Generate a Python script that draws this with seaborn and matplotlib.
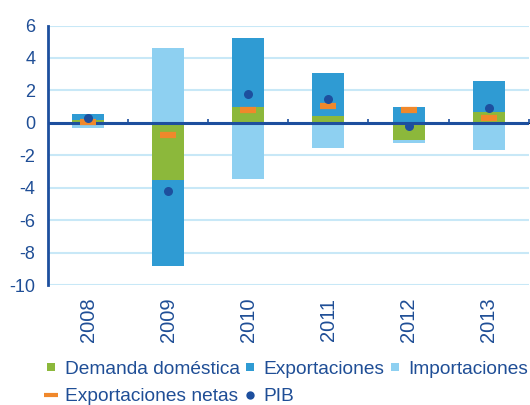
import numpy as np
import pandas as pd
import seaborn as sns
import matplotlib.pyplot as plt
from matplotlib.lines import Line2D

# values
years = ["2008", "2009", "2010", "2011", "2012", "2013"]
demanda = [0.2, -3.5, 1.0, 0.45, -1.03, 0.66]
exportaciones = [0.35, -5.3, 4.25, 2.6, 1.0, 1.94]
importaciones = [-0.3, 4.6, -3.45, -1.56, -0.2, -1.67]
export_netas = [0.05, -0.72, 0.78, 1.03, 0.8, 0.27]
pib = [0.27, -4.2, 1.8, 1.48, -0.2, 0.93]

c_dem = "#8CB83B"
c_exp = "#2F9BD3"
c_imp = "#8ED0F1"
c_net = "#F0882B"
c_pib = "#1D4F9E"
c_txt = "#1F4E96"
c_grid = "#C8E8F7"

sns.set_style("white")
plt.rcParams["font.family"] = ["Liberation Sans", "DejaVu Sans"]
plt.rcParams["axes.unicode_minus"] = False

fig = plt.figure(figsize=(5.3, 4.05), dpi=100)
ax = fig.add_axes([0.0906, 0.296, 0.907, 0.641])

# stacked bars, positives upward and negatives downward
pos = np.zeros(len(years))
neg = np.zeros(len(years))
for vals, col in [(demanda, c_dem), (exportaciones, c_exp), (importaciones, c_imp)]:
    v = np.array(vals)
    bottom = np.where(v >= 0, pos, neg)
    sns.barplot(x=years, y=v, bottom=bottom, color=col, saturation=1,
                width=0.4, errorbar=None, linewidth=0, zorder=2, ax=ax)
    pos = pos + np.where(v >= 0, v, 0)
    neg = neg + np.where(v < 0, v, 0)

ax.axhline(0, color=c_pib, lw=2.2, zorder=3)

sns.pointplot(x=years, y=export_netas, color=c_net, linestyle="none",
              marker="_", markersize=11, markeredgewidth=4.5,
              errorbar=None, zorder=4, ax=ax)
sns.pointplot(x=years, y=pib, color=c_pib, linestyle="none",
              marker="o", markersize=6.5, markeredgewidth=0,
              errorbar=None, zorder=5, ax=ax)

ax.set_xlim(-0.5, 5.5)
ax.set_ylim(-10, 6)
ax.set_yticks(range(-10, 7, 2))
ax.yaxis.grid(True, color=c_grid, lw=1.5)
ax.set_axisbelow(True)
for s in ["top", "right", "bottom"]:
    ax.spines[s].set_visible(False)
ax.spines["left"].set_color(c_pib)
ax.spines["left"].set_linewidth(2)
ax.tick_params(axis="y", colors=c_pib, labelcolor=c_txt, labelsize=13,
               length=4, width=1.5, pad=5)
ax.tick_params(axis="x", labelcolor=c_txt, labelsize=14.5, length=0,
               pad=9, labelrotation=90)
ax.set_xlabel("")
ax.set_ylabel("")

# small category-boundary ticks along the zero line
sec = ax.secondary_xaxis(0.625)
sec.set_xticks(np.arange(0.5, 6, 1))
sec.set_xticklabels([])
sec.tick_params(direction="out", length=3, width=1.2, colors=c_pib)
sec.spines["bottom"].set_visible(False)

handles = [
    Line2D([], [], ls="none", marker="s", ms=6, mew=0, color=c_dem),
    Line2D([], [], ls="none", marker="_", ms=10, mew=3, color=c_net),
    Line2D([], [], ls="none", marker="s", ms=6, mew=0, color=c_exp),
    Line2D([], [], ls="none", marker="o", ms=6, mew=0, color=c_pib),
    Line2D([], [], ls="none", marker="s", ms=6, mew=0, color=c_imp),
]
labels = ["Demanda doméstica", "Exportaciones netas", "Exportaciones", "PIB",
          "Importaciones"]
leg = fig.legend(handles, labels, ncol=3, loc="upper left",
                 bbox_to_anchor=(0.085, 0.11), frameon=False, fontsize=13.8,
                 handlelength=0.6, handletextpad=0.42, columnspacing=0.23,
                 labelspacing=0.52, borderaxespad=0, borderpad=0)
for t in leg.get_texts():
    t.set_color(c_txt)

fig.savefig("out.png", dpi=100)
